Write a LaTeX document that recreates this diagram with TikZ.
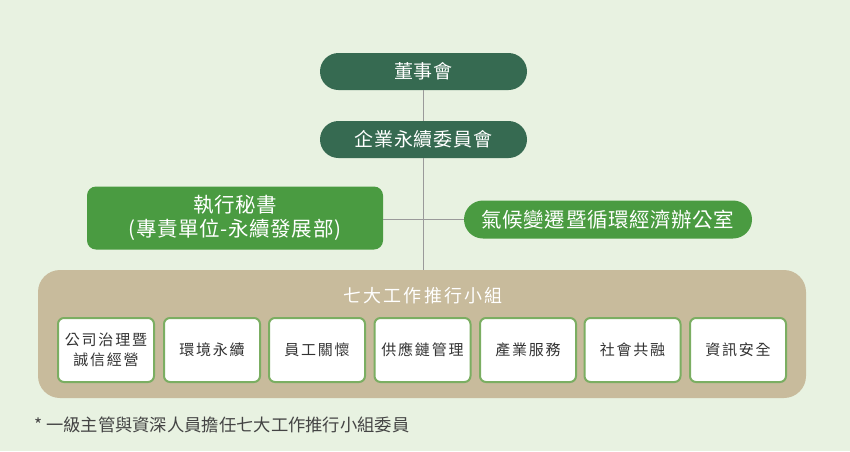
\documentclass[tikz,border=0pt]{standalone}
\usepackage{fontspec}
\setmainfont{Noto Sans CJK TC}
\newfontfamily\cjka[LetterSpace=5]{Noto Sans CJK TC}
\newfontfamily\cjkb[LetterSpace=3]{Noto Sans CJK TC}
\newfontfamily\cjks[LetterSpace=12]{Noto Sans CJK TC}
\definecolor{bgc}{HTML}{E8F2E1}
\definecolor{darkg}{HTML}{366A51}
\definecolor{midg}{HTML}{4A9B41}
\definecolor{tanc}{HTML}{C8BB9C}
\definecolor{boxb}{HTML}{7BAE62}
\definecolor{linec}{HTML}{9A9A9A}
\definecolor{txtc}{HTML}{333333}
\definecolor{notec}{HTML}{444444}
\tikzset{
  topbox/.style={draw=none, fill=darkg, text=white, rounded corners=18.5pt,
    minimum width=207pt, minimum height=37pt, inner sep=0pt,
    font=\cjka\fontsize{19}{23}\selectfont},
  midbox/.style={draw=none, fill=midg, text=white, inner sep=0pt,
    font=\cjkb\fontsize{20.5}{24}\selectfont, align=center},
  teambox/.style={draw=boxb, line width=2pt, fill=white, text=txtc, rounded corners=6pt,
    minimum width=96pt, minimum height=64pt, inner sep=0pt,
    font=\cjks\fontsize{15}{20.5}\selectfont, align=center},
  conn/.style={draw=linec, line width=1pt}
}
\begin{document}
\begin{tikzpicture}[x=1pt,y=-1pt]
\useasboundingbox[fill=bgc] (0,0) rectangle (850,451);
% tan group box
\node[fill=tanc, rounded corners=22pt, minimum width=768pt, minimum height=128pt, inner sep=0pt] (group) at (422,334) {};
% connectors
\node[topbox] (board) at (423.5,71.5) {董事會};
\node[topbox] (csr) at (423.5,139.5) {企業永續委員會};
\draw[conn] (board.south) -- (csr.north);
\coordinate (gtop) at (423.5,270);
\draw[conn] (csr.south) -- (gtop);
\node[midbox, rounded corners=9pt, minimum width=296pt, minimum height=63pt] (exec) at (235,218) {執行秘書\\(專責單位-永續發展部)};
\node[midbox, rounded corners=19pt, minimum width=288pt, minimum height=38pt] (climate) at (608,219.5) {氣候變遷暨循環經濟辦公室};
\draw[conn] (exec.east |- climate.west) -- (climate.west);
\node[text=white, font=\cjks\fontsize{18}{20}\selectfont] (title) at (423,296) {七大工作推行小組};
\node[teambox] (t1) at (106,350) {公司治理暨\\誠信經營};
\node[teambox] (t2) at (212,350) {環境永續};
\node[teambox] (t3) at (317,350) {員工關懷};
\node[teambox] (t4) at (422.5,350) {供應鏈管理};
\node[teambox] (t5) at (528,350) {產業服務};
\node[teambox] (t6) at (632.5,350) {社會共融};
\node[teambox] (t7) at (738,350) {資訊安全};
\node[anchor=west, text=notec, inner sep=0pt, font=\fontsize{17.3}{20}\selectfont] (note) at (34,425) {* 一級主管與資深人員擔任七大工作推行小組委員};
\end{tikzpicture}
\end{document}
